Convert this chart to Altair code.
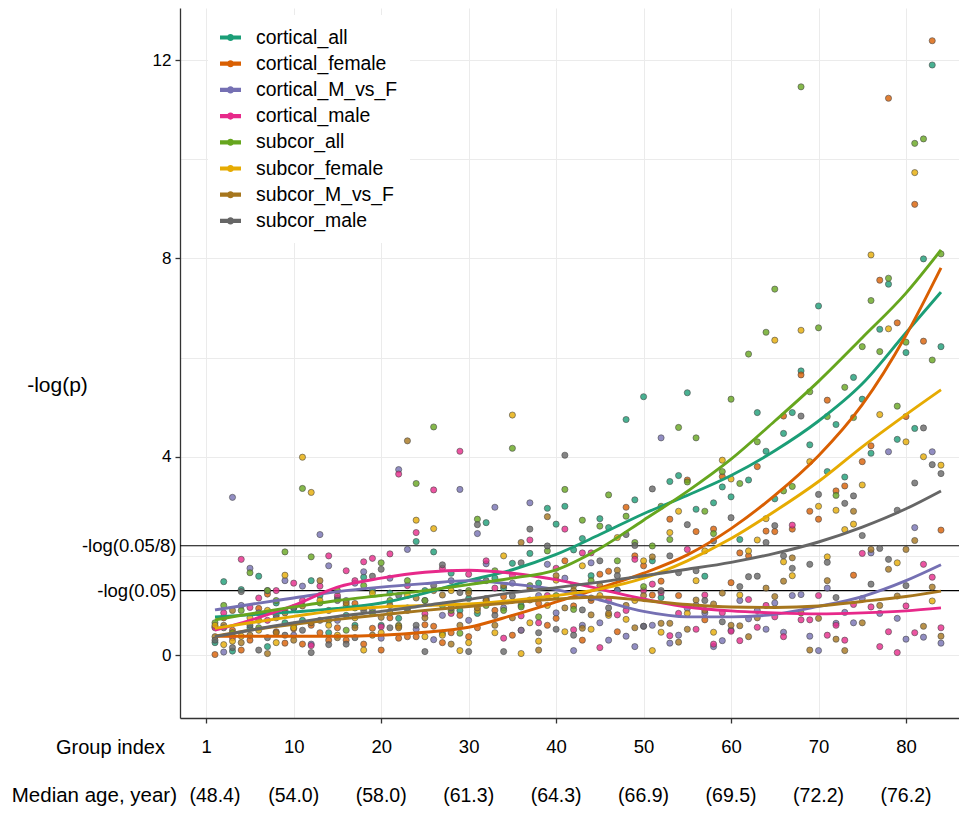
import altair as alt
import pandas as pd
import numpy as np

series_names = ["cortical_all", "cortical_female", "cortical_M_vs_F", "cortical_male",
                "subcor_all", "subcor_female", "subcor_M_vs_F", "subcor_male"]
colors = ["#1b9e77", "#d95f02", "#7570b3", "#e7298a", "#66a61e", "#e6ab02", "#a6761d", "#666666"]

group_index = list(range(1, 85))

cortical_all = [0.25, 1.48, 0.08, 1.32, 0.55, 1.59, 0.17, 1.05, 0.65, 0.95,
                0.7, 1.50, 1.2, 0.45, 1.15, 0.8, 0.6, 1.57, 1.3, 0.6,
                1.25, 0.74, 0.95, 2.29, 1.3, 2.08, 1.0, 1.65, 0.9, 1.14,
                0.84, 2.67, 1.55, 1.35, 1.85, 1.0, 2.05, 1.45, 2.96, 2.64,
                3.0, 2.12, 2.35, 1.6, 2.75, 2.57, 1.31, 4.75, 3.13, 5.21,
                1.9, 1.16, 3.5, 3.62, 5.29, 2.94, 1.59, 3.07, 3.39, 3.19,
                2.33, 3.53, 4.89, 4.11, 3.15, 4.47, 4.89, 5.73, 4.24, 7.04,
                3.7, 4.65, 3.59, 5.6, 5.16, 4.07, 6.57, 7.48, 4.35, 6.10,
                4.57, 7.99, 11.9, 6.22]
cortical_female = [0.01, 0.75, 0.5, 0.1, 0.3, 0.94, 1.23, 0.47, 0.24, 0.53,
                   0.22, 0.6, 0.45, 0.3, 0.55, 0.3, 1.04, 0.22, 0.54, 0.1,
                   0.75, 0.34, 0.37, 0.37, 0.61, 0.58, 0.25, 0.45, 0.8, 0.37,
                   0.55, 1.14, 0.9, 1.18, 0.4, 0.5, 1.35, 1.04, 0.6, 0.74,
                   1.9, 0.99, 0.3, 1.1, 1.63, 1.69, 0.47, 2.98, 2.0, 1.8,
                   1.21, 1.49, 2.74, 1.2, 3.53, 2.49, 0.71, 2.54, 3.6, 1.46,
                   2.06, 2.0, 3.8, 2.5, 2.49, 4.82, 2.54, 5.65, 2.9, 2.74,
                   5.14, 3.31, 3.41, 1.61, 3.9, 4.22, 7.56, 11.23, 6.70, 4.81,
                   9.09, 6.33, 12.39, 2.52]
cortical_M_vs_F = [0.57, 0.06, 3.18, 1.0, 1.75, 0.85, 1.3, 0.75, 1.5, 0.4,
                   1.39, 0.22, 2.43, 1.8, 0.7, 1.1, 1.45, 1.68, 0.9, 0.34,
                   1.55, 3.74, 2.13, 0.52, 1.1, 0.31, 0.8, 1.5, 3.34, 0.7,
                   2.45, 1.84, 2.98, 0.95, 1.45, 0.5, 3.07, 1.2, 1.83, 0.85,
                   1.55, 0.09, 0.6, 1.86, 0.65, 0.3, 1.3, 0.38, 0.17, 0.58,
                   0.6, 4.38, 0.24, 0.4, 0.94, 1.0, 0.85, 0.17, 0.29, 0.5,
                   1.1, 0.73, 0.9, 0.52, 1.05, 0.46, 1.2, 1.22, 0.38, 0.09,
                   1.35, 0.64, 0.86, 0.65, 1.14, 2.06, 0.84, 4.1, 0.74, 0.32,
                   2.57, 0.36, 4.1, 0.24]
cortical_male = [0.55, 0.85, 0.35, 1.93, 0.96, 1.15, 0.7, 1.3, 0.9, 1.45,
                 1.1, 0.19, 1.39, 2.0, 1.2, 1.7, 1.5, 1.88, 1.95, 0.57,
                 2.04, 3.65, 1.4, 2.47, 0.83, 3.33, 1.75, 0.84, 4.11, 1.63,
                 1.5, 1.9, 1.35, 0.34, 1.6, 0.79, 2.32, 0.65, 1.2, 1.75,
                 2.54, 0.51, 2.06, 2.06, 0.15, 1.1, 0.81, 0.9, 1.93, 1.3,
                 1.43, 1.26, 0.39, 0.84, 2.13, 0.52, 1.21, 0.22, 0.85, 0.48,
                 0.29, 1.12, 0.56, 1.0, 0.77, 0.37, 2.62, 0.71, 0.71, 1.2,
                 0.40, 0.6, 0.3, 1.02, 2.05, 0.97, 0.17, 0.47, 0.05, 0.99,
                 0.45, 1.83, 1.57, 0.55]
subcor_all = [0.65, 1.0, 0.45, 0.9, 1.66, 0.55, 1.3, 1.1, 2.08, 0.6,
              3.36, 1.98, 1.05, 0.7, 1.3, 0.5, 0.95, 1.4, 0.85, 1.86,
              1.1, 0.6, 1.5, 3.46, 1.1, 4.6, 0.44, 0.9, 0.44, 1.3,
              2.74, 1.0, 1.7, 0.9, 4.17, 0.97, 1.4, 0.77, 2.1, 1.2,
              3.34, 0.92, 2.72, 1.5, 2.6, 3.23, 1.9, 2.8, 2.27, 1.38,
              2.2, 3.0, 2.33, 4.59, 3.49, 4.38, 2.9, 2.45, 3.7, 5.16,
              3.46, 6.07, 4.3, 6.51, 7.38, 3.31, 3.4, 11.46, 5.31, 6.6,
              4.81, 3.22, 5.4, 4.79, 6.22, 7.15, 6.12, 7.60, 5.02, 6.31,
              10.32, 10.41, 5.95, 8.09]
subcor_female = [0.6, 0.21, 0.28, 0.38, 0.75, 0.5, 0.9, 0.25, 1.61, 0.55,
                 3.99, 3.28, 1.1, 0.6, 0.4, 1.0, 0.75, 0.1, 1.25, 0.45,
                 0.85, 0.58, 1.2, 2.72, 0.37, 2.55, 0.4, 1.3, 0.09, 0.25,
                 0.9, 1.1, 0.45, 2.0, 4.84, 0.03, 0.65, 0.28, 1.0, 1.51,
                 0.47, 1.4, 1.8, 0.52, 1.2, 0.8, 2.37, 0.72, 1.1, 1.9,
                 0.09, 0.46, 2.47, 2.9, 0.84, 1.5, 2.1, 0.46, 3.93, 3.55,
                 1.21, 2.1, 2.32, 2.75, 6.35, 1.88, 1.6, 6.55, 3.9, 3.0,
                 1.98, 2.92, 2.53, 2.64, 3.43, 8.07, 4.85, 6.58, 1.86, 4.3,
                 9.73, 4.0, 1.09, 3.83]
subcor_M_vs_F = [0.37, 0.6, 0.9, 0.25, 0.4, 0.7, 0.03, 0.45, 0.85, 0.3,
                 0.99, 0.65, 1.5, 0.9, 0.35, 1.05, 0.55, 0.95, 0.4, 0.76,
                 1.0, 0.55, 4.32, 1.15, 0.75, 1.3, 1.21, 0.22, 0.6, 1.25,
                 0.95, 1.1, 0.6, 1.4, 0.75, 2.27, 1.11, 0.1, 2.79, 1.6,
                 0.95, 1.3, 0.54, 0.81, 1.4, 0.84, 1.71, 1.0, 0.55, 1.2,
                 1.98, 0.64, 0.64, 0.26, 0.52, 1.11, 0.9, 1.03, 1.25, 0.6,
                 0.59, 0.37, 0.75, 1.35, 1.18, 1.49, 1.96, 0.85, 0.10, 0.74,
                 1.5, 0.32, 0.09, 2.9, 0.65, 2.13, 1.0, 1.73, 1.19, 2.13,
                 2.31, 0.58, 1.37, 0.38]
subcor_male = [0.3, 0.55, 0.15, 1.28, 0.6, 0.1, 0.35, 0.8, 0.4, 0.95,
               0.5, 0.05, 0.7, 0.21, 1.1, 0.22, 0.35, 0.9, 1.59, 1.73,
               0.55, 1.2, 0.9, 0.6, 0.07, 1.4, 1.82, 0.95, 1.26, 0.07,
               2.63, 1.5, 0.8, 0.07, 1.19, 1.86, 2.54, 0.45, 2.2, 0.52,
               4.03, 0.4, 0.91, 1.15, 1.9, 0.95, 1.6, 2.43, 2.21, 0.58,
               3.35, 1.3, 2.0, 1.66, 2.63, 1.7, 1.1, 2.3, 0.67, 2.77,
               1.38, 1.58, 1.59, 2.27, 2.61, 2.0, 1.75, 4.82, 1.83, 3.24,
               1.87, 1.16, 3.06, 3.21, 2.41, 1.43, 2.15, 1.93, 2.92, 1.4,
               3.47, 4.58, 3.84, 3.66]

# smoothed trend curves
trend_x = [1, 5, 10, 15, 20, 25, 30, 35, 40, 45, 50, 55, 60, 65, 70, 75, 80, 84]
trend_cortical_all = [0.77, 0.81, 0.87, 0.94, 1.05, 1.25, 1.50, 1.72, 2.03, 2.43, 2.85, 3.22, 3.62, 4.12, 4.72, 5.47, 6.50, 7.32]
trend_cortical_female = [0.38, 0.38, 0.38, 0.38, 0.40, 0.46, 0.56, 0.80, 1.07, 1.35, 1.65, 2.02, 2.55, 3.22, 4.02, 5.05, 6.45, 7.81]
trend_cortical_M_vs_F = [0.91, 1.02, 1.15, 1.28, 1.37, 1.44, 1.50, 1.43, 1.32, 1.11, 0.88, 0.77, 0.77, 0.82, 0.98, 1.18, 1.50, 1.82]
trend_cortical_male = [0.50, 0.70, 1.00, 1.37, 1.55, 1.67, 1.71, 1.65, 1.52, 1.33, 1.13, 0.97, 0.89, 0.85, 0.83, 0.85, 0.89, 0.95]
trend_subcor_all = [0.71, 0.83, 0.97, 1.10, 1.20, 1.30, 1.42, 1.55, 1.72, 2.15, 2.72, 3.30, 3.95, 4.72, 5.52, 6.40, 7.30, 8.17]
trend_subcor_female = [0.54, 0.65, 0.78, 0.90, 0.97, 1.00, 1.03, 1.10, 1.20, 1.33, 1.55, 1.90, 2.35, 2.90, 3.50, 4.20, 4.85, 5.35]
trend_subcor_M_vs_F = [0.38, 0.50, 0.62, 0.72, 0.81, 0.90, 0.98, 1.06, 1.13, 1.17, 1.10, 1.02, 0.97, 0.96, 0.99, 1.08, 1.18, 1.29]
trend_subcor_male = [0.37, 0.50, 0.65, 0.78, 0.88, 1.00, 1.12, 1.26, 1.36, 1.47, 1.60, 1.73, 1.87, 2.05, 2.28, 2.58, 2.95, 3.31]

x_tick_values = [0, 10, 20, 30, 40, 50, 60, 70, 80]
age_positions = [1, 10, 20, 30, 40, 50, 60, 70, 80]
age_labels = ["(48.4)", "(54.0)", "(58.0)", "(61.3)", "(64.3)", "(66.9)", "(69.5)", "(72.2)", "(76.2)"]
thresholds = [round(-np.log10(0.05), 5), round(-np.log10(0.05 / 8), 5)]
y_tick_values = [0, thresholds[0], 2, thresholds[1], 4, 6, 8, 10, 12]

point_values = [cortical_all, cortical_female, cortical_M_vs_F, cortical_male,
                subcor_all, subcor_female, subcor_M_vs_F, subcor_male]
trend_values = [trend_cortical_all, trend_cortical_female, trend_cortical_M_vs_F, trend_cortical_male,
                trend_subcor_all, trend_subcor_female, trend_subcor_M_vs_F, trend_subcor_male]

pts = pd.DataFrame([
    {"x": gi, "y": v, "series": s, "order": k}
    for k, (s, vals) in enumerate(zip(series_names, point_values))
    for gi, v in zip(group_index, vals)
])
trs = pd.DataFrame([
    {"x": tx, "y": v, "series": s, "order": k}
    for k, (s, vals) in enumerate(zip(series_names, trend_values))
    for tx, v in zip(trend_x, vals)
])
ages = pd.DataFrame({"x": age_positions, "label": age_labels})
hl = pd.DataFrame({"y": thresholds})

FONT = "Liberation Sans"
GRID = "#ebebeb"

x_scale = alt.Scale(domain=[-3.0, 86.06], nice=False, zero=False)
y_scale = alt.Scale(domain=[-1.27, 13.05], nice=False, zero=False)

x_axis = alt.Axis(
    values=x_tick_values, title=None,
    labelExpr="datum.value == 0 ? '1' : datum.label",
    grid=True, gridColor=GRID, gridWidth=1,
    domainColor="#333333", domainWidth=1.3,
    tickColor={"condition": {"test": "datum.value % 20 === 0", "value": "#333333"}, "value": "transparent"},
    tickSize=5, tickWidth=1.3,
    labelFontSize=18.5, labelColor="black", labelFont=FONT, labelPadding=14,
)
custom_test = "abs(datum.value - 1.30103) < 0.001 || abs(datum.value - 2.20412) < 0.001"
y_axis = alt.Axis(
    values=y_tick_values,
    title="-log(p)", titleAngle=0, titleAlign="center", titleBaseline="middle",
    titleX=-123, titleY=377, titleFontSize=21, titleFontWeight="normal",
    titleFont=FONT, titleColor="black",
    labelExpr=("abs(datum.value - 1.30103) < 0.001 ? '-log(0.05)' : "
               "abs(datum.value - 2.20412) < 0.001 ? '-log(0.05/8)' : "
               "(datum.value % 4 === 0 ? datum.label : '')"),
    grid=True,
    gridColor={"condition": {"test": "datum.value % 2 === 0", "value": GRID}, "value": "transparent"},
    domainColor="#333333", domainWidth=1.3,
    tickColor={"condition": {"test": "datum.value % 4 === 0", "value": "#333333"}, "value": "transparent"},
    tickSize=5, tickWidth=1.3,
    labelFontSize={"condition": {"test": custom_test, "value": 18.5}, "value": 17},
    labelPadding={"condition": {"test": custom_test, "value": -1}, "value": 4},
    labelColor="black", labelFont=FONT,
)

X = alt.X("x:Q", scale=x_scale, axis=x_axis)
Y = alt.Y("y:Q", scale=y_scale, axis=y_axis)

legend_symbol = ("M-1,-0.2L1,-0.2L1,0.2L-1,0.2Z "
                 "M0.34,0A0.34,0.34 0 1 1 -0.34,0A0.34,0.34 0 1 1 0.34,0Z")

color_scale = alt.Scale(domain=series_names, range=colors)

rules = alt.Chart(hl).mark_rule(color="black", strokeWidth=1.2).encode(y=Y)

points = alt.Chart(pts).mark_point(
    filled=True, size=38, stroke="#4a4a4a", strokeWidth=0.6, fillOpacity=0.8, opacity=1
).encode(
    x=X, y=Y,
    color=alt.Color("series:N", scale=color_scale, sort=series_names,
                    legend=alt.Legend(
                        title=None, orient="none", legendX=28, legendY=7,
                        fillColor="white", padding=12,
                        symbolType=legend_symbol, symbolSize=441,
                        symbolStrokeWidth=0, symbolOpacity=1,
                        labelFontSize=19.4, labelFont=FONT, labelColor="black",
                        labelOffset=15, rowPadding=6.2,
                    )),
    order=alt.Order("order:Q"),
)

lines = alt.Chart(trs).mark_line(strokeWidth=2.9, interpolate="monotone").encode(
    x=X, y=Y,
    color=alt.Color("series:N", scale=color_scale, legend=None),
    detail="series:N",
    order=alt.Order("x:Q"),
)

age_text = alt.Chart(ages).mark_text(
    fontSize=19.5, font=FONT, color="black", baseline="middle", align="center"
).encode(x=X, y=alt.value(788), text="label:N")

row_headers = pd.DataFrame({"label": ["Group index", "Median age, year)"], "row": [0, 1]})
hdr1 = alt.Chart(row_headers[row_headers.row == 0]).mark_text(
    fontSize=20, font=FONT, color="black", baseline="middle", align="right"
).encode(x=alt.value(-15), y=alt.value(740), text="label:N")
hdr2 = alt.Chart(row_headers[row_headers.row == 1]).mark_text(
    fontSize=20.5, font=FONT, color="black", baseline="middle", align="right"
).encode(x=alt.value(-3), y=alt.value(788), text="label:N")

chart = alt.layer(rules, points, lines, age_text, hdr1, hdr2).properties(
    width=779, height=710,
    padding={"left": 172, "top": 0, "right": 0, "bottom": 89},
    autosize=alt.AutoSizeParams(type="none"),
    background="white",
).configure_view(stroke=None)

chart.save("out.html", embed_options={"renderer": "svg", "actions": False})
